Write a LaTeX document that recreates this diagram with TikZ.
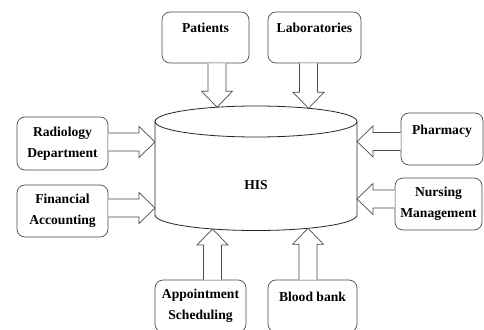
\documentclass[tikz,border=0pt]{standalone}
\usepackage{fontspec}
\setmainfont{Liberation Serif}
\usetikzlibrary{calc}

\newcommand{\fatarrow}[2]{%
  \coordinate (fa-h) at ($(#2)!16pt!(#1)$);
  \draw [fat] ($(#1)!9pt!90:(#2)$) -- ($(fa-h)!9pt!90:(#2)$) -- ($(fa-h)!15.5pt!90:(#2)$) -- (#2)
    -- ($(fa-h)!15.5pt!-90:(#2)$) -- ($(fa-h)!9pt!-90:(#2)$) -- ($(#1)!9pt!-90:(#2)$);
}

\begin{document}
\begin{tikzpicture}[x=1pt,y=1pt,
  box/.style={draw=black!70,line width=0.7pt,rounded corners=8pt,inner sep=0pt,align=center,
    font=\fontsize{13.6}{21}\selectfont\bfseries},
  fat/.style={draw=black!70,line width=0.7pt,fill=white,line join=miter},
  cyl/.style={draw=black!85,line width=0.8pt}]
\clip (0,0) rectangle (484,-329);
\fill [white] (0,0) rectangle (484,-329);
\draw [cyl] (256,-121.5) ellipse (101 and 15.5);
\draw [cyl] (155,-121.5) -- (155,-215) arc (180:360:101 and 15.5) -- (357,-121.5);
\node (his) at (256,-185) [font=\fontsize{13.6}{16}\selectfont\bfseries] {HIS};
\node [box,minimum width=87pt,minimum height=51pt] (pat) at (205.5,-37.5) {Patients\\[-8pt]\strut};
\node [box,minimum width=93pt,minimum height=51pt] (lab) at (314.5,-37.5) {Laboratories\\[-8pt]\strut};
\node [box,minimum width=91pt,minimum height=53pt] (rad) at (62.5,-143.5) {Radiology\\Department};
\node [box,minimum width=91pt,minimum height=52pt] (fin) at (62.5,-211) {Financial\\Accounting};
\node [box,minimum width=82pt,minimum height=52pt] (pha) at (442,-139) {Pharmacy\\[-8pt]\strut};
\node [box,minimum width=87pt,minimum height=52pt] (nur) at (438.5,-204) {Nursing\\Management};
\node [box,minimum width=91pt,minimum height=52pt] (app) at (200.5,-306) {Appointment\\Scheduling};
\node [box,minimum width=89pt,minimum height=52pt] (blo) at (312.5,-306) {Blood bank\\[-8pt]\strut};
\coordinate (in-pat) at (217,-107.2);
\coordinate (in-lab) at (308.5,-108.3);
\coordinate (in-rad) at (155,-142);
\coordinate (in-fin) at (155,-208);
\coordinate (in-pha) at (357,-141.5);
\coordinate (in-nur) at (357,-199);
\coordinate (in-app) at (212.5,-229);
\coordinate (in-blo) at (308,-228.3);
\coordinate (out-pat) at (pat.south -| in-pat);
\coordinate (out-lab) at (lab.south -| in-lab);
\coordinate (out-rad) at (rad.east |- in-rad);
\coordinate (out-fin) at (fin.east |- in-fin);
\coordinate (out-pha) at (pha.west |- in-pha);
\coordinate (out-nur) at (nur.west |- in-nur);
\coordinate (out-app) at (app.north -| in-app);
\coordinate (out-blo) at (blo.north -| in-blo);
\fatarrow{out-pat}{in-pat}
\fatarrow{out-lab}{in-lab}
\fatarrow{out-rad}{in-rad}
\fatarrow{out-fin}{in-fin}
\fatarrow{out-pha}{in-pha}
\fatarrow{out-nur}{in-nur}
\fatarrow{out-app}{in-app}
\fatarrow{out-blo}{in-blo}
\end{tikzpicture}
\end{document}
